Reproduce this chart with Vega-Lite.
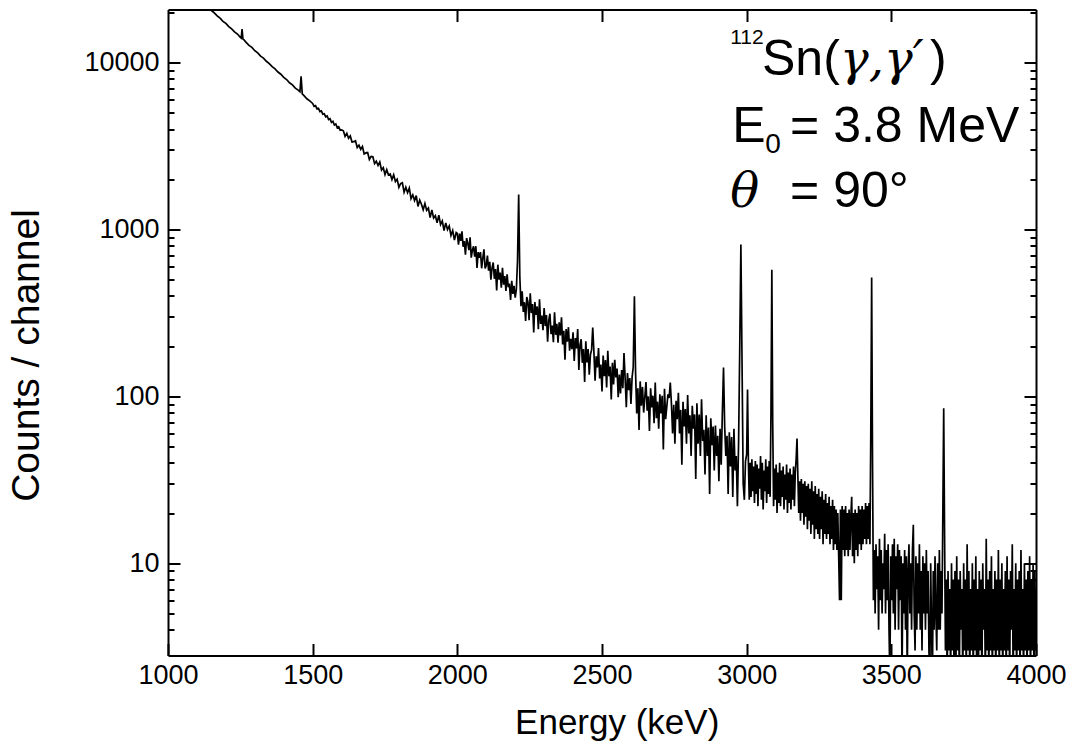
{
  "$schema": "https://vega.github.io/schema/vega-lite/v6.json",
  "width": 868,
  "height": 646,
  "autosize": {"type": "none"},
  "padding": {"left": 168, "top": 9.5, "right": 47, "bottom": 89.5},
  "background": "white",
  "config": {
    "view": {"stroke": null},
    "axis": {"domainColor": "black", "domainWidth": 2, "tickColor": "black", "tickWidth": 2, "grid": false, "labelFont": "Liberation Sans", "labelFontSize": 27, "labelColor": "black", "labelOverlap": false, "labelBound": false, "labelFlush": false, "titleFont": "Liberation Sans", "titleFontWeight": "normal", "titleColor": "black"}
  },
  "datasets": {
    "spec": [
      {"e":1130,"c":22200},{"e":1140,"c":21400},{"e":1150,"c":20550},{"e":1160,"c":19900},{"e":1170,"c":19100},{"e":1180,"c":18500},{"e":1190,"c":17700},{"e":1200,"c":17200},{"e":1210,"c":16450},{"e":1220,"c":15950},{"e":1230,"c":15300},{"e":1240,"c":14850},{"e":1250,"c":14200},{"e":1253,"c":14050},{"e":1256,"c":15900},{"e":1259,"c":13850},{"e":1262,"c":13750},{"e":1270,"c":13250},{"e":1280,"c":12700},{"e":1290,"c":12350},{"e":1300,"c":11800},{"e":1310,"c":11450},{"e":1320,"c":10950},{"e":1330,"c":10650},{"e":1340,"c":10200},{"e":1350,"c":9880},{"e":1360,"c":9470},{"e":1370,"c":9180},{"e":1380,"c":8790},{"e":1390,"c":8530},{"e":1400,"c":8170},{"e":1410,"c":7930},{"e":1420,"c":7580},{"e":1430,"c":7370},{"e":1440,"c":7040},{"e":1450,"c":6850},{"e":1456,"c":6700},{"e":1460,"c":8300},{"e":1464,"c":6500},{"e":1470,"c":6350},{"e":1480,"c":6080},{"e":1490,"c":5900},
      {"e":1500,"c":5700},{"e":1505,"c":5480},{"e":1510,"c":5530},{"e":1515,"c":5290},{"e":1520,"c":5330},{"e":1525,"c":5090},{"e":1530,"c":5140},{"e":1535,"c":4920},{"e":1540,"c":4950},{"e":1545,"c":4740},{"e":1550,"c":4790},{"e":1555,"c":4560},{"e":1560,"c":4610},{"e":1565,"c":4390},{"e":1570,"c":4450},{"e":1575,"c":4230},{"e":1580,"c":4290},{"e":1585,"c":4080},{"e":1590,"c":4130},{"e":1595,"c":3940},{"e":1600,"c":3960},
      {"e":1606,"c":3909},{"e":1612,"c":3621},{"e":1618,"c":3773},{"e":1624,"c":3528},{"e":1630,"c":3642},{"e":1636,"c":3345},{"e":1642,"c":3362},{"e":1648,"c":3407},{"e":1654,"c":3101},{"e":1660,"c":3203},{"e":1666,"c":3022},{"e":1672,"c":3145},{"e":1678,"c":2838},{"e":1684,"c":2880},{"e":1690,"c":2893},{"e":1696,"c":2631},{"e":1702,"c":2744},{"e":1708,"c":2731},{"e":1714,"c":2485},{"e":1720,"c":2567},{"e":1726,"c":2422},{"e":1732,"c":2542},{"e":1738,"c":2275},{"e":1744,"c":2350},{"e":1750,"c":2136},{"e":1756,"c":2287},{"e":1762,"c":2121},{"e":1768,"c":2151},{"e":1774,"c":1992},{"e":1780,"c":2130},{"e":1786,"c":1941},{"e":1792,"c":2004},{"e":1798,"c":1789},{"e":1804,"c":1883},{"e":1810,"c":1907},{"e":1816,"c":1674},{"e":1822,"c":1793},{"e":1828,"c":1663},{"e":1834,"c":1775},{"e":1840,"c":1533},{"e":1846,"c":1614},{"e":1852,"c":1494},{"e":1858,"c":1598},{"e":1864,"c":1376},{"e":1870,"c":1502},{"e":1876,"c":1419},{"e":1882,"c":1313},{"e":1888,"c":1430},{"e":1894,"c":1303},{"e":1900,"c":1345},{"e":1906,"c":1179},{"e":1912,"c":1309},{"e":1918,"c":1171},{"e":1924,"c":1209},{"e":1930,"c":1099},{"e":1936,"c":1219},{"e":1942,"c":1072},{"e":1948,"c":1127},{"e":1954,"c":987},{"e":1960,"c":1097},{"e":1966,"c":1000},{"e":1972,"c":1050},{"e":1978,"c":921},{"e":1984,"c":987},{"e":1990,"c":865},{"e":1996,"c":960},
      {"e":2000,"c":949},{"e":2004,"c":813},{"e":2008,"c":946},{"e":2012,"c":855},{"e":2016,"c":975},{"e":2020,"c":789},{"e":2024,"c":853},{"e":2028,"c":706},{"e":2032,"c":888},{"e":2036,"c":828},{"e":2040,"c":752},{"e":2044,"c":898},{"e":2048,"c":679},{"e":2052,"c":752},{"e":2056,"c":794},{"e":2060,"c":688},{"e":2064,"c":795},{"e":2068,"c":588},{"e":2072,"c":732},{"e":2076,"c":677},{"e":2080,"c":733},{"e":2084,"c":586},{"e":2088,"c":673},{"e":2092,"c":762},{"e":2096,"c":584},{"e":2100,"c":608},{"e":2104,"c":699},{"e":2108,"c":567},{"e":2112,"c":640},{"e":2116,"c":501},{"e":2120,"c":588},{"e":2124,"c":635},{"e":2128,"c":507},{"e":2132,"c":579},{"e":2136,"c":431},{"e":2140,"c":616},{"e":2144,"c":501},{"e":2148,"c":552},{"e":2152,"c":448},{"e":2156,"c":590},{"e":2160,"c":467},{"e":2164,"c":526},{"e":2168,"c":429},{"e":2172,"c":539},{"e":2176,"c":451},{"e":2180,"c":474},{"e":2184,"c":378},{"e":2188,"c":493},{"e":2192,"c":411},{"e":2196,"c":460},{"e":2200,"c":391},{"e":2204,"c":437},{"e":2208,"c":650},{"e":2212,"c":1620},{"e":2216,"c":520},{"e":2220,"c":347},
      {"e":2224,"c":426},{"e":2228,"c":321},{"e":2232,"c":367},{"e":2236,"c":283},{"e":2240,"c":394},{"e":2244,"c":368},{"e":2248,"c":286},{"e":2252,"c":415},{"e":2256,"c":316},{"e":2260,"c":358},{"e":2264,"c":242},{"e":2268,"c":368},{"e":2272,"c":308},{"e":2276,"c":346},{"e":2280,"c":253},{"e":2284,"c":382},{"e":2288,"c":272},{"e":2292,"c":305},{"e":2296,"c":249},{"e":2300,"c":339},{"e":2304,"c":264},{"e":2308,"c":307},{"e":2312,"c":213},{"e":2316,"c":286},{"e":2320,"c":313},{"e":2324,"c":236},{"e":2328,"c":266},{"e":2332,"c":211},{"e":2336,"c":319},{"e":2340,"c":234},{"e":2344,"c":272},{"e":2348,"c":210},{"e":2352,"c":278},{"e":2356,"c":232},{"e":2360,"c":298},{"e":2364,"c":205},{"e":2368,"c":247},{"e":2372,"c":166},{"e":2376,"c":253},{"e":2380,"c":213},{"e":2384,"c":260},{"e":2388,"c":188},{"e":2392,"c":221},{"e":2396,"c":192},{"e":2400,"c":242},
      {"e":2404,"c":163},{"e":2408,"c":224},{"e":2412,"c":194},{"e":2416,"c":253},{"e":2420,"c":144},{"e":2424,"c":204},{"e":2428,"c":220},{"e":2432,"c":159},{"e":2436,"c":192},{"e":2440,"c":122},{"e":2444,"c":214},{"e":2448,"c":160},{"e":2452,"c":192},{"e":2456,"c":135},{"e":2460,"c":178},{"e":2464,"c":190},{"e":2468,"c":259},{"e":2472,"c":185},{"e":2476,"c":124},{"e":2480,"c":174},{"e":2484,"c":149},{"e":2488,"c":195},{"e":2492,"c":128},{"e":2496,"c":155},{"e":2500,"c":107},{"e":2504,"c":176},{"e":2508,"c":132},{"e":2512,"c":165},{"e":2516,"c":113},{"e":2520,"c":188},{"e":2524,"c":132},{"e":2528,"c":151},{"e":2532,"c":96},{"e":2536,"c":159},{"e":2540,"c":118},{"e":2544,"c":166},{"e":2548,"c":130},{"e":2552,"c":147},{"e":2556,"c":99},{"e":2560,"c":135},{"e":2564,"c":104},{"e":2568,"c":144},{"e":2572,"c":112},{"e":2576,"c":182},{"e":2580,"c":128},{"e":2584,"c":86},{"e":2588,"c":138},{"e":2592,"c":109},{"e":2596,"c":129},{"e":2600,"c":90},
      {"e":2604,"c":130},{"e":2608,"c":150},{"e":2612,"c":398},{"e":2616,"c":140},{"e":2620,"c":79},{"e":2624,"c":112},{"e":2628,"c":63},{"e":2632,"c":123},{"e":2636,"c":88},{"e":2640,"c":114},{"e":2644,"c":80},{"e":2648,"c":99},{"e":2652,"c":122},{"e":2656,"c":82},{"e":2660,"c":100},{"e":2664,"c":62},{"e":2668,"c":112},{"e":2672,"c":86},{"e":2676,"c":101},{"e":2680,"c":69},{"e":2684,"c":121},{"e":2688,"c":74},{"e":2692,"c":93},{"e":2696,"c":64},{"e":2700,"c":103},
      {"e":2704,"c":79},{"e":2708,"c":101},{"e":2712,"c":48},{"e":2716,"c":111},{"e":2720,"c":73},{"e":2724,"c":87},{"e":2728,"c":103},{"e":2732,"c":98},{"e":2736,"c":121},{"e":2740,"c":90},{"e":2744,"c":60},{"e":2748,"c":89},{"e":2752,"c":52},{"e":2756,"c":94},{"e":2760,"c":73},{"e":2764,"c":105},{"e":2768,"c":60},{"e":2772,"c":83},{"e":2776,"c":39},{"e":2780,"c":93},{"e":2784,"c":66},{"e":2788,"c":84},{"e":2792,"c":52},{"e":2796,"c":102},{"e":2800,"c":60},
      {"e":2804,"c":77},{"e":2808,"c":44},{"e":2812,"c":88},{"e":2816,"c":64},{"e":2820,"c":78},{"e":2824,"c":32},{"e":2828,"c":91},{"e":2832,"c":52},{"e":2836,"c":78},{"e":2840,"c":44},{"e":2844,"c":96},{"e":2848,"c":54},{"e":2852,"c":63},{"e":2856,"c":34},{"e":2860,"c":77},{"e":2864,"c":44},{"e":2868,"c":65},{"e":2872,"c":26},{"e":2876,"c":74},{"e":2880,"c":51},{"e":2884,"c":66},{"e":2888,"c":36},{"e":2892,"c":67},{"e":2896,"c":44},{"e":2900,"c":58},
      {"e":2904,"c":31},{"e":2908,"c":64},{"e":2912,"c":39},{"e":2916,"c":80},{"e":2920,"c":149},{"e":2924,"c":66},{"e":2928,"c":44},{"e":2932,"c":58},{"e":2936,"c":26},{"e":2940,"c":61},{"e":2944,"c":38},{"e":2948,"c":57},{"e":2952,"c":25},{"e":2956,"c":64},{"e":2960,"c":36},{"e":2964,"c":44},{"e":2968,"c":22},{"e":2972,"c":52},{"e":2976,"c":190},{"e":2980,"c":813},{"e":2984,"c":160},{"e":2988,"c":30},{"e":2992,"c":24},{"e":2996,"c":41},
      {"e":3000,"c":45},{"e":3003,"c":110},{"e":3006,"c":40},{"e":3009,"c":24},{"e":3012,"c":40},{"e":3015,"c":25},{"e":3018,"c":42},{"e":3021,"c":27},{"e":3024,"c":38},{"e":3027,"c":23},{"e":3030,"c":41},{"e":3033,"c":26},{"e":3036,"c":39},{"e":3039,"c":22},{"e":3042,"c":37},{"e":3045,"c":28},{"e":3048,"c":44},{"e":3051,"c":24},{"e":3054,"c":40},{"e":3057,"c":21},{"e":3060,"c":36},{"e":3063,"c":27},{"e":3066,"c":42},{"e":3069,"c":23},{"e":3072,"c":38},{"e":3075,"c":26},{"e":3078,"c":41},{"e":3081,"c":25},{"e":3084,"c":80},{"e":3087,"c":575},{"e":3090,"c":70},
      {"e":3093,"c":22},{"e":3096,"c":37},{"e":3099,"c":24},{"e":3102,"c":39},{"e":3105,"c":20},{"e":3108,"c":35},{"e":3111,"c":23},{"e":3114,"c":40},{"e":3117,"c":22},{"e":3120,"c":36},{"e":3123,"c":25},{"e":3126,"c":38},{"e":3129,"c":21},{"e":3132,"c":34},{"e":3135,"c":24},{"e":3138,"c":39},{"e":3141,"c":20},{"e":3144,"c":35},{"e":3147,"c":23},{"e":3150,"c":37},{"e":3153,"c":21},{"e":3156,"c":34},{"e":3159,"c":24},{"e":3162,"c":38},{"e":3165,"c":22},{"e":3168,"c":35},{"e":3171,"c":42},{"e":3174,"c":56},{"e":3177,"c":33},{"e":3180,"c":20},
      {"e":3183,"c":31},{"e":3186,"c":18},{"e":3189,"c":32},{"e":3192,"c":20},{"e":3195,"c":30},{"e":3198,"c":17},{"e":3201,"c":31},{"e":3204,"c":19},{"e":3207,"c":29},{"e":3210,"c":16},{"e":3213,"c":30},{"e":3216,"c":18},{"e":3219,"c":28},{"e":3222,"c":15},{"e":3225,"c":31},{"e":3228,"c":17},{"e":3231,"c":27},{"e":3234,"c":14},{"e":3237,"c":29},{"e":3240,"c":16},{"e":3243,"c":26},{"e":3246,"c":15},{"e":3249,"c":28},{"e":3252,"c":14},{"e":3255,"c":25},{"e":3258,"c":16},{"e":3261,"c":27},{"e":3264,"c":13},{"e":3267,"c":24},{"e":3270,"c":15},{"e":3273,"c":26},{"e":3276,"c":14},{"e":3279,"c":23},{"e":3282,"c":15},{"e":3285,"c":25},{"e":3288,"c":13},{"e":3291,"c":22},{"e":3294,"c":14},{"e":3297,"c":24},
      {"e":3300,"c":12},{"e":3303,"c":22},{"e":3306,"c":13},{"e":3309,"c":21},{"e":3312,"c":12},{"e":3315,"c":20},{"e":3318,"c":11},{"e":3321,"c":6},{"e":3324,"c":21},{"e":3327,"c":6},{"e":3330,"c":22},{"e":3333,"c":12},{"e":3336,"c":21},{"e":3339,"c":11},{"e":3342,"c":22},{"e":3345,"c":12},{"e":3348,"c":20},{"e":3351,"c":11},{"e":3354,"c":21},{"e":3357,"c":12},{"e":3360,"c":19},{"e":3363,"c":25},{"e":3366,"c":11},{"e":3369,"c":20},{"e":3372,"c":10},{"e":3375,"c":21},{"e":3378,"c":12},{"e":3381,"c":20},{"e":3384,"c":11},{"e":3387,"c":22},{"e":3390,"c":13},{"e":3393,"c":21},{"e":3396,"c":12},{"e":3399,"c":22},
      {"e":3402,"c":13},{"e":3405,"c":21},{"e":3408,"c":14},{"e":3411,"c":23},{"e":3414,"c":13},{"e":3417,"c":22},{"e":3420,"c":14},{"e":3423,"c":23},{"e":3426,"c":13},{"e":3429,"c":60},{"e":3432,"c":516},{"e":3435,"c":40},
      {"e":3438,"c":6},{"e":3441,"c":12},{"e":3444,"c":5},{"e":3447,"c":13},{"e":3450,"c":7},{"e":3453,"c":11},{"e":3456,"c":4},{"e":3459,"c":14},{"e":3462,"c":6},{"e":3465,"c":12},{"e":3468,"c":5},{"e":3471,"c":10},{"e":3474,"c":7},{"e":3477,"c":15},{"e":3480,"c":5},{"e":3483,"c":12},{"e":3486,"c":6},{"e":3489,"c":13},{"e":3492,"c":4},{"e":3495,"c":2},{"e":3498,"c":11},
      {"e":3501,"c":6},{"e":3504,"c":13},{"e":3507,"c":5},{"e":3510,"c":14},{"e":3513,"c":4},{"e":3516,"c":11},{"e":3519,"c":7},{"e":3522,"c":13},{"e":3525,"c":4},{"e":3528,"c":12},{"e":3531,"c":6},{"e":3534,"c":11},{"e":3537,"c":2},{"e":3540,"c":10},{"e":3543,"c":5},{"e":3546,"c":12},{"e":3549,"c":4},{"e":3552,"c":11},{"e":3555,"c":2},{"e":3558,"c":9},{"e":3561,"c":13},{"e":3564,"c":5},{"e":3567,"c":10},{"e":3570,"c":4},{"e":3573,"c":12},{"e":3576,"c":17},{"e":3579,"c":5},{"e":3582,"c":3},{"e":3585,"c":11},{"e":3588,"c":4},{"e":3591,"c":10},{"e":3594,"c":5},{"e":3597,"c":13},
      {"e":3600,"c":4},{"e":3603,"c":9},{"e":3606,"c":3},{"e":3609,"c":11},{"e":3612,"c":5},{"e":3615,"c":10},{"e":3618,"c":4},{"e":3621,"c":12},{"e":3624,"c":5},{"e":3627,"c":9},{"e":3630,"c":3},{"e":3633,"c":2},{"e":3636,"c":10},{"e":3639,"c":4},{"e":3642,"c":2},{"e":3645,"c":9},{"e":3648,"c":4},{"e":3651,"c":11},{"e":3654,"c":5},{"e":3657,"c":3},{"e":3660,"c":10},{"e":3663,"c":4},{"e":3666,"c":12},{"e":3669,"c":4},{"e":3672,"c":9},{"e":3675,"c":5},{"e":3678,"c":20},{"e":3681,"c":85},{"e":3684,"c":15},{"e":3687,"c":3},{"e":3690,"c":8},{"e":3693,"c":2},{"e":3696,"c":9},{"e":3699,"c":3},
      {"e":3702,"c":7},{"e":3705,"c":2},{"e":3708,"c":10},{"e":3711,"c":3},{"e":3714,"c":8},{"e":3717,"c":2},{"e":3720,"c":9},{"e":3723,"c":2},{"e":3726,"c":11},{"e":3729,"c":3},{"e":3732,"c":8},{"e":3735,"c":2},{"e":3738,"c":9},{"e":3741,"c":4},{"e":3744,"c":7},{"e":3747,"c":2},{"e":3750,"c":10},{"e":3753,"c":3},{"e":3756,"c":8},{"e":3759,"c":2},{"e":3762,"c":13},{"e":3765,"c":3},{"e":3768,"c":9},{"e":3771,"c":2},{"e":3774,"c":7},{"e":3777,"c":3},{"e":3780,"c":10},{"e":3783,"c":2},{"e":3786,"c":8},{"e":3789,"c":3},{"e":3792,"c":11},{"e":3795,"c":2},{"e":3798,"c":7},
      {"e":3801,"c":2},{"e":3804,"c":9},{"e":3807,"c":3},{"e":3810,"c":8},{"e":3813,"c":2},{"e":3816,"c":10},{"e":3819,"c":4},{"e":3822,"c":7},{"e":3825,"c":2},{"e":3828,"c":14},{"e":3831,"c":3},{"e":3834,"c":8},{"e":3837,"c":2},{"e":3840,"c":9},{"e":3843,"c":3},{"e":3846,"c":11},{"e":3849,"c":2},{"e":3852,"c":7},{"e":3855,"c":3},{"e":3858,"c":9},{"e":3861,"c":2},{"e":3864,"c":8},{"e":3867,"c":3},{"e":3870,"c":12},{"e":3873,"c":2},{"e":3876,"c":8},{"e":3879,"c":3},{"e":3882,"c":10},{"e":3885,"c":2},{"e":3888,"c":7},{"e":3891,"c":3},{"e":3894,"c":9},{"e":3897,"c":2},
      {"e":3900,"c":11},{"e":3903,"c":3},{"e":3906,"c":8},{"e":3909,"c":2},{"e":3912,"c":9},{"e":3915,"c":4},{"e":3918,"c":13},{"e":3921,"c":2},{"e":3924,"c":7},{"e":3927,"c":3},{"e":3930,"c":10},{"e":3933,"c":2},{"e":3936,"c":8},{"e":3939,"c":3},{"e":3942,"c":9},{"e":3945,"c":2},{"e":3948,"c":12},{"e":3951,"c":3},{"e":3954,"c":7},{"e":3957,"c":2},{"e":3960,"c":10},{"e":3963,"c":3},{"e":3966,"c":8},{"e":3969,"c":2},{"e":3972,"c":9},{"e":3975,"c":3},{"e":3978,"c":11},{"e":3981,"c":2},{"e":3984,"c":8},{"e":3987,"c":3},{"e":3990,"c":10},{"e":3993,"c":2},{"e":3996,"c":9},{"e":3999,"c":3},{"e":4002,"c":7}
    ],
    "big": [
      {"e":3053,"c":8440,"t":"Sn("},
      {"e":3634,"c":8440,"t":")"},
      {"e":2950,"c":3363,"t":"E"},
      {"e":3150,"c":3363,"t":"= 3.8 MeV"},
      {"e":3150,"c":1372,"t":"= 90°"}
    ],
    "ital": [
      {"e":3323,"c":8440,"t":"γ,γ′"},
      {"e":2943,"c":1372,"t":"θ"}
    ],
    "sup": [{"e":2943,"c":12940,"t":"112"}],
    "sub": [{"e":3064,"c":2877,"t":"0"}]
  },
  "resolve": {"axis": {"x": "independent", "y": "independent"}},
  "layer": [
    {
      "data": {"name": "spec"},
      "mark": {"type": "line", "color": "black", "strokeWidth": 1.7, "clip": true},
      "encoding": {
        "x": {"field": "e", "type": "quantitative", "scale": {"domain": [1000, 4000], "nice": false, "zero": false},
          "axis": {"orient": "bottom", "values": [1000,1500,2000,2500,3000,3500,4000], "format": "d", "tickSize": -12, "labelPadding": 19,
            "title": "Energy (keV)", "titleFontSize": 35, "titleX": 448.7, "titleY": 77.6, "titleBaseline": "alphabetic", "titleAlign": "center", "titleAnchor": null}},
        "y": {"field": "c", "type": "quantitative", "scale": {"type": "log", "domain": [2.8, 20840], "nice": false},
          "axis": {"orient": "left", "values": [4,5,6,7,8,9,10,20,30,40,50,60,70,80,90,100,200,300,400,500,600,700,800,900,1000,2000,3000,4000,5000,6000,7000,8000,9000,10000,20000],
            "format": "d",
            "labelExpr": "(datum.value==10||datum.value==100||datum.value==1000||datum.value==10000) ? datum.label : ''",
            "tickSize": {"condition": {"test": "datum.value==10||datum.value==100||datum.value==1000||datum.value==10000", "value": -12}, "value": -6},
            "labelPadding": 21,
            "title": "Counts / channel", "titleFontSize": 39, "titleX": -129.7, "titleY": 345.5, "titleAngle": 270, "titleBaseline": "alphabetic", "titleAlign": "center", "titleAnchor": null}}
      }
    },
    {
      "data": {"name": "big"},
      "mark": {"type": "text", "align": "left", "baseline": "alphabetic", "font": "Liberation Sans", "fontSize": 50, "color": "black"},
      "encoding": {
        "x": {"field": "e", "type": "quantitative", "axis": {"orient": "top", "values": [1500,2000,2500,3000,3500], "labels": false, "tickSize": -12, "title": null}},
        "y": {"field": "c", "type": "quantitative", "axis": {"orient": "right", "values": [4,5,6,7,8,9,10,20,30,40,50,60,70,80,90,100,200,300,400,500,600,700,800,900,1000,2000,3000,4000,5000,6000,7000,8000,9000,10000,20000], "labels": false,
          "tickSize": {"condition": {"test": "datum.value==10||datum.value==100||datum.value==1000||datum.value==10000", "value": -12}, "value": -6}, "title": null}},
        "text": {"field": "t", "type": "nominal"}
      }
    },
    {
      "data": {"name": "ital"},
      "mark": {"type": "text", "align": "left", "baseline": "alphabetic", "font": "DejaVu Serif", "fontStyle": "italic", "fontSize": 48, "color": "black"},
      "encoding": {
        "x": {"field": "e", "type": "quantitative", "axis": null},
        "y": {"field": "c", "type": "quantitative", "axis": null},
        "text": {"field": "t", "type": "nominal"}
      }
    },
    {
      "data": {"name": "sup"},
      "mark": {"type": "text", "align": "left", "baseline": "alphabetic", "font": "Liberation Sans", "fontSize": 21, "color": "black"},
      "encoding": {
        "x": {"field": "e", "type": "quantitative", "axis": null},
        "y": {"field": "c", "type": "quantitative", "axis": null},
        "text": {"field": "t", "type": "nominal"}
      }
    },
    {
      "data": {"name": "sub"},
      "mark": {"type": "text", "align": "left", "baseline": "alphabetic", "font": "Liberation Sans", "fontSize": 28, "color": "black"},
      "encoding": {
        "x": {"field": "e", "type": "quantitative", "axis": null},
        "y": {"field": "c", "type": "quantitative", "axis": null},
        "text": {"field": "t", "type": "nominal"}
      }
    }
  ]
}
